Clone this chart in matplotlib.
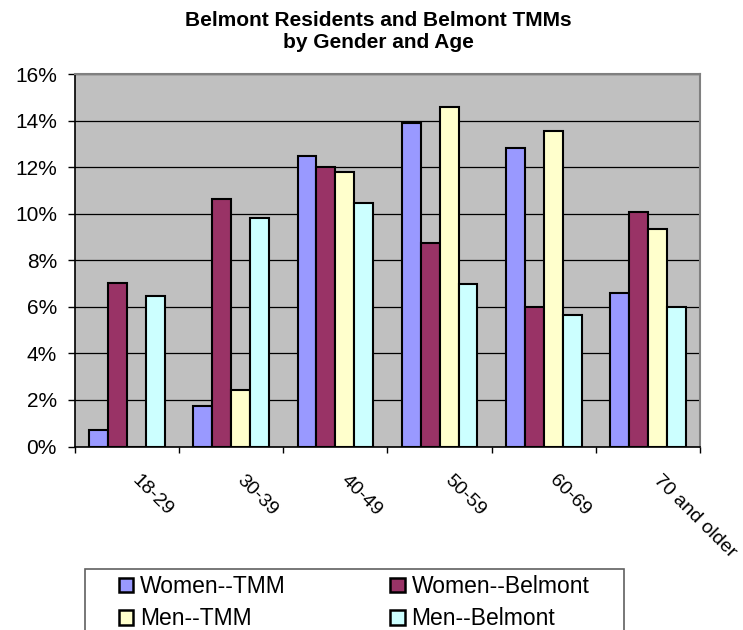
import matplotlib
matplotlib.use("Agg")
import matplotlib.pyplot as plt
import matplotlib.patches as mpatches
import matplotlib.transforms as mtransforms
import numpy as np

plt.rcParams['font.family'] = ['Liberation Sans', 'DejaVu Sans']

# values, in percent
age_groups = ['18-29', '30-39', '40-49', '50-59', '60-69', '70 and older']
women_tmm = [0.69, 1.72, 12.49, 13.89, 12.83, 6.59]
women_belmont = [7.02, 10.64, 12.01, 8.72, 5.99, 10.06]
men_tmm = [0.0, 2.41, 11.8, 14.58, 13.55, 9.36]
men_belmont = [6.45, 9.82, 10.48, 6.98, 5.65, 5.99]

series_names = ['Women--TMM', 'Women--Belmont', 'Men--TMM', 'Men--Belmont']
series_colors = ['#9999FF', '#993366', '#FFFFCC', '#CCFFFF']
y_ticks = [0, 2, 4, 6, 8, 10, 12, 14, 16]

fig = plt.figure(figsize=(7.43, 6.3), dpi=100)
ax = fig.add_axes([75 / 743, 1 - 446.5 / 630, 625 / 743, 372.5 / 630])
ax.set_facecolor('#C0C0C0')

x = np.arange(len(age_groups))
w = 1 / 5.5
all_series = [women_tmm, women_belmont, men_tmm, men_belmont]
handles = []
for j, (vals, name, col) in enumerate(zip(all_series, series_names, series_colors)):
    b = ax.bar(x + (j - 1.5) * w, vals, width=w, color=col, edgecolor='black',
               linewidth=1.5, label=name, zorder=3)
    handles.append(b)

ax.set_xlim(-0.5, len(age_groups) - 0.5)
ax.set_ylim(0, 16)
ax.set_yticks(y_ticks)
ax.set_yticklabels(['%d%%' % v for v in y_ticks], fontsize=15)
ax.yaxis.grid(True, color='black', linewidth=0.9, zorder=1)
ax.set_axisbelow(True)

# boundary ticks (major, no labels) and centered labels (minor)
ax.set_xticks(np.arange(len(age_groups) + 1) - 0.5)
ax.set_xticklabels([])
ax.set_xticks(x, minor=True)
ax.set_xticklabels(age_groups, minor=True, fontsize=14, rotation=-45,
                   ha='left', va='top', rotation_mode='anchor')
ax.tick_params(axis='x', which='major', direction='out', length=4, width=1, color='black')
ax.tick_params(axis='x', which='minor', length=0, pad=18)
ax.tick_params(axis='y', direction='out', length=5, width=1, pad=8, color='black')
shift = mtransforms.ScaledTranslation(14 / 100, 0, fig.dpi_scale_trans)
for lbl in ax.get_xticklabels(minor=True):
    lbl.set_transform(lbl.get_transform() + shift)

for s in ['left', 'bottom']:
    ax.spines[s].set_color('black')
    ax.spines[s].set_linewidth(1.2)
for s in ['top', 'right']:
    ax.spines[s].set_color('#808080')
    ax.spines[s].set_linewidth(1.5)

fig.text(378 / 743, 1 - 32 / 630, 'Belmont Residents and Belmont TMMs\nby Gender and Age',
         ha='center', va='center', fontsize=15, fontweight='bold', linespacing=1.2)

# legend frame, runs off the bottom of the picture
frame = mpatches.Rectangle((85 / 743, -0.05), 539 / 743, 0.05 + (630 - 569) / 630,
                           transform=fig.transFigure, facecolor='white',
                           edgecolor='#606060', linewidth=1.2)
fig.patches.append(frame)
# legend fills column by column, so order the entries to read row by row
order = [0, 2, 1, 3]
leg = fig.legend(handles=[handles[k] for k in order],
                 labels=[series_names[k] for k in order], ncol=2, frameon=False,
                 loc='upper left', bbox_to_anchor=(119 / 743, 1 - 575 / 630),
                 borderpad=0, borderaxespad=0, fontsize=16.5,
                 handlelength=0.62, handleheight=0.62, handletextpad=0.3,
                 labelspacing=0.4, columnspacing=4.56)
for p in leg.get_patches():
    p.set_linewidth(1.8)

fig.savefig('out.png', dpi=100)
